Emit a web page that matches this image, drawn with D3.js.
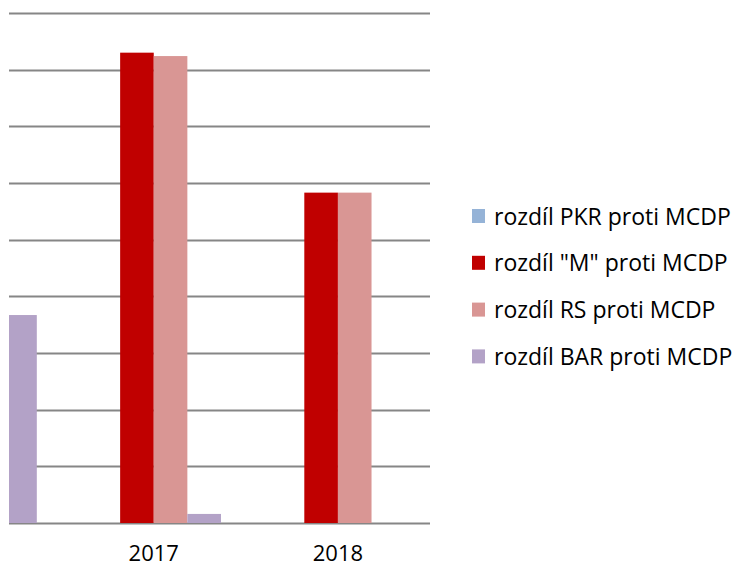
<!DOCTYPE html>
<html>
<head>
<meta charset="utf-8">
<script src="https://cdn.jsdelivr.net/npm/d3@7"></script>
<style>
body { margin: 0; background: #fff; }
text { font-family: "Open Sans", "Liberation Sans", sans-serif; fill: #000; }
</style>
</head>
<body>
<svg id="chart" width="739" height="569"></svg>
<script>
// data (units = one gridline step)
var categories = ["2016", "2017", "2018"];
var series = ["rozdíl PKR proti MCDP", "rozdíl \"M\" proti MCDP", "rozdíl RS proti MCDP", "rozdíl BAR proti MCDP"];
var colors = ["#95b3d7", "#c00000", "#d99694", "#b3a2c7"];
var pkrValues = [0, 0, 0];
var mValues = [0, 8.30, 5.83];
var rsValues = [0, 8.24, 5.83];
var barValues = [3.67, 0.16, 0];
var yTicks = [0, 1, 2, 3, 4, 5, 6, 7, 8, 9];

var values = [pkrValues, mValues, rsValues, barValues];

var svg = d3.select("#chart");

var plotL = 9, plotR = 430, plotT = 13, plotB = 523;

// the chart is cropped on the left: first category band starts off-screen
var x0 = d3.scaleBand().domain(categories).range([-122.5, plotR]);
var step = x0.bandwidth();
var gap = step * 0.27;
var x1 = d3.scaleBand().domain(d3.range(series.length)).range([gap / 2, step - gap / 2]);

var y = d3.scaleLinear().domain([0, 9]).range([plotB, plotT]);

svg.append("defs").append("clipPath")
	.attr("id", "plot-clip")
	.append("rect")
	.attr("x", plotL)
	.attr("y", 0)
	.attr("width", plotR - plotL)
	.attr("height", plotB + 1);

// gridlines
svg.append("g")
	.selectAll("line")
	.data(yTicks)
	.enter()
	.append("line")
	.attr("x1", plotL)
	.attr("x2", plotR)
	.attr("y1", function(d){ return Math.round(y(d)) + 0.5; })
	.attr("y2", function(d){ return Math.round(y(d)) + 0.5; })
	.attr("stroke", "#868686")
	.attr("stroke-width", 1.8);

// bars
var bars = svg.append("g").attr("clip-path", "url(#plot-clip)");
categories.forEach(function(cat, ci){
	bars.append("g")
		.attr("transform", "translate(" + x0(cat) + ",0)")
		.selectAll("rect")
		.data(series.map(function(s, si){ return { si: si, v: values[si][ci] }; }))
		.enter()
		.append("rect")
		.attr("x", function(d){ return x1(d.si); })
		.attr("y", function(d){ return y(d.v); })
		.attr("width", x1.bandwidth())
		.attr("height", function(d){ return plotB - y(d.v); })
		.attr("fill", function(d){ return colors[d.si]; });
});

// category labels (only those whose band centre is inside the visible plot)
svg.append("g")
	.selectAll("text")
	.data(categories.filter(function(d){ return x0(d) + step / 2 > plotL; }))
	.enter()
	.append("text")
	.attr("x", function(d){ return x0(d) + step / 2; })
	.attr("y", 561)
	.attr("text-anchor", "middle")
	.attr("font-size", 22)
	.text(function(d){ return d; });

// legend
var legend = svg.append("g")
	.selectAll("g")
	.data(series)
	.enter()
	.append("g")
	.attr("transform", function(d, i){ return "translate(472," + (216 + i * 46.8) + ")"; });

legend.append("rect")
	.attr("x", 0)
	.attr("y", -7)
	.attr("width", 13)
	.attr("height", 14)
	.attr("fill", function(d, i){ return colors[i]; });

legend.append("text")
	.attr("x", 22)
	.attr("y", 8.5)
	.attr("font-size", 23)
	.text(function(d){ return d; });
</script>
</body>
</html>
